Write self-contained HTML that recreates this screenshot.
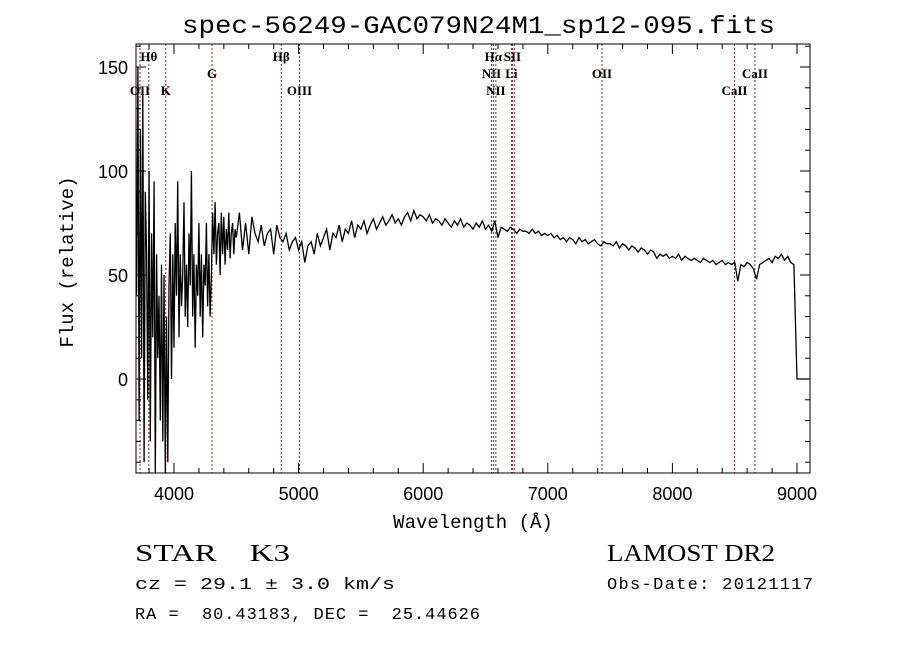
<!DOCTYPE html>
<html><head><meta charset="utf-8"><style>
body{margin:0;background:#fff;width:900px;height:649px;overflow:hidden}
svg text{fill:#000}
</style></head><body>
<svg id="chart" width="900" height="649" xmlns="http://www.w3.org/2000/svg" style="font-family:'Liberation Sans',sans-serif">
<text x="182" y="33" font-size="25" textLength="593" lengthAdjust="spacingAndGlyphs" style="font-family:'Liberation Mono',monospace">spec-56249-GAC079N24M1_sp12-095.fits</text>
<g id="lines"></g>
<g id="axes"></g>
<path id="spec" fill="none" stroke="#000" stroke-width="1.3"/>
<rect x="136" y="44" width="674" height="429" fill="none" stroke="#000" stroke-width="1"/>
<text x="473" y="528" font-size="19" text-anchor="middle" style="font-family:'Liberation Mono',monospace">Wavelength (Å)</text>
<text transform="translate(73,262) rotate(-90)" font-size="19" text-anchor="middle" style="font-family:'Liberation Mono',monospace">Flux (relative)</text>
<text x="135" y="561" font-size="24" textLength="155" lengthAdjust="spacingAndGlyphs" style="font-family:'Liberation Serif',serif;white-space:pre" xml:space="preserve">STAR    K3</text>
<text x="607" y="561" font-size="24" textLength="168" lengthAdjust="spacingAndGlyphs" style="font-family:'Liberation Serif',serif">LAMOST DR2</text>
<text x="135" y="589" font-size="17" textLength="260" lengthAdjust="spacingAndGlyphs" style="font-family:'Liberation Mono',monospace">cz = 29.1 ± 3.0 km/s</text>
<text x="607" y="589" font-size="17" textLength="206" lengthAdjust="spacing" style="font-family:'Liberation Mono',monospace">Obs-Date: 20121117</text>
<text x="135" y="619" font-size="17" textLength="345" lengthAdjust="spacing" style="font-family:'Liberation Mono',monospace;white-space:pre" xml:space="preserve">RA =  80.43183, DEC =  25.44626</text>
</svg>
<script>
const xTicks=[4000,5000,6000,7000,8000,9000];
const yTicks=[0,50,100,150];
const lineNames=["OII","Hθ","K","G","Hβ","OIII","NII","Hα","NII","Li","SII","SII","OII","CaII","CaII"];
const lineWaves=[3727,3798,3934,4305,4861,5007,6548,6563,6583,6708,6716,6731,7435,8498,8662];
const lineRows=[2,0,2,1,0,2,1,0,2,1,0,-1,1,2,1];
const fluxA=[40,150,-20,120,10,140,-40,90,60,-10,100,-30,70,20,95,-45,60,10,40,-20,55,-30,50,-45,30,-40,45,70,0,60,15,75,40,95,20,60,35,50,85,30,55,25,70,45,100,30,60,15,55,40,75,30,60,20,55,45,75,35,60,30,50,80,60,85,55,70,75,50,80,60,78,55,72,62,80,58,70,75,60,72];
const fluxB=[68,80,62,75,60,78,70,66,74,64,70,72,60,74,68,66,70,62,66,68,
62,66,56,64,66,60,70,64,68,72,62,70,68,74,66,72,70,76,68,74,
72,76,70,74,77,72,75,78,74,76,79,75,77,74,78,80,76,81,77,79,
78,76,79,75,77,76,74,77,75,73,76,74,77,73,75,74,72,75,73,76,
72,74,71,76,68,73,72,71,73,72,70,72,71,71,70,72,70,71,69,70,
69,70,68,69,67,68,66,68,67,65,68,66,67,65,66,67,65,64,66,65,
65,64,66,63,65,64,62,64,63,61,63,62,60,62,61,58,60,59,60,58,
59,58,60,57,59,58,57,58,57,56,58,57,56,57,55,56,57,55,56,55,
56,47,55,54,56,55,53,48,55,56,57,58,56,59,58,60,57,59,56,55,0,0];
const X=w=>174+(w-4000)*0.1246, Y=v=>379-v*2.08;
const NS="http://www.w3.org/2000/svg";
function mk(t,a,p){const e=document.createElementNS(NS,t);for(const k in a)e.setAttribute(k,a[k]);p.appendChild(e);return e;}
const ax=document.getElementById('axes'), ln=document.getElementById('lines');
xTicks.forEach(w=>{
 const t=mk('text',{x:X(w),y:500,'font-size':18,'text-anchor':'middle'},ax);t.textContent=w;
 
 
});
for(let w=3800;w<=9100;w+=200){const L=(w%1000===0)?10:5;
 mk('line',{x1:X(w),x2:X(w),y1:473,y2:473-L,stroke:'#000'},ax);
 mk('line',{x1:X(w),x2:X(w),y1:44,y2:44+L,stroke:'#000'},ax);}
yTicks.forEach(v=>{
 const t=mk('text',{x:128,y:Y(v)+7,'font-size':18,'text-anchor':'end'},ax);t.textContent=v;
 
 
});
for(let v=-40;v<=160;v+=10){const L=(v%50===0)?10:5;
 mk('line',{x1:136,x2:136+L,y1:Y(v),y2:Y(v),stroke:'#000'},ax);
 mk('line',{x1:810,x2:810-L,y1:Y(v),y2:Y(v),stroke:'#000'},ax);}
lineWaves.forEach((w,i)=>{
 const l=mk('line',{x1:X(w),x2:X(w),y1:44,y2:473,stroke:'#8b2a2a','stroke-width':1,'stroke-dasharray':'2,2'},ln);
 
 
 if(lineRows[i]>=0){const t=mk('text',{x:X(w),y:61+lineRows[i]*17,'font-size':13,'text-anchor':'middle',style:"font-family:'Liberation Serif',serif;font-weight:bold"},ln);t.textContent=lineNames[i];
 
 }
});
let pts=[];
fluxA.forEach((v,i)=>pts.push([X(3700+i*10),Y(v)]));
fluxB.forEach((v,i)=>{let w=4500+i*25; if(w>9000)w=9105; if(i===fluxB.length-2)w=9000; pts.push([X(w),Y(v)]);});
const d='M'+pts.map(p=>p[0].toFixed(1)+','+p[1].toFixed(1)).join('L');
document.getElementById('spec').setAttribute('d',d);
</script>
</body></html>
